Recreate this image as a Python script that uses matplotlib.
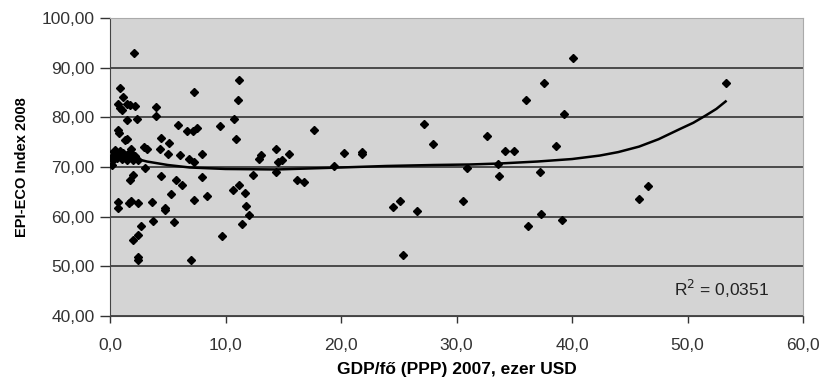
import numpy as np
import matplotlib.pyplot as plt
from matplotlib.ticker import FuncFormatter

plt.rcParams['font.family'] = ['Liberation Sans', 'DejaVu Sans']

# GDP per capita (PPP, 2007, thousand USD) vs EPI-ECO index 2008
gdp = [2.1, 0.86, 1.15, 0.7, 0.86, 1.0, 1.5, 1.7, 2.15, 4.0,
       4.0, 7.3, 1.45, 2.3, 0.7, 0.78, 1.3, 1.45, 5.85, 4.45,
       5.1, 6.7, 7.2, 7.55, 2.9, 3.2, 1.8, 4.3, 5.0, 6.1,
       6.8, 7.3, 8.0, 0.3, 0.15, 0.7, 1.0, 1.3, 1.45, 1.7,
       2.0, 2.45, 0.6, 0.45, 0.9, 3.0, 2.0, 1.7, 4.45, 5.75,
       6.2, 5.3, 7.3, 0.65, 0.65, 1.6, 1.8, 2.4, 3.65, 4.75,
       4.8, 3.75, 5.5, 2.7, 2.4, 1.95, 2.4, 2.45, 7.0, 9.55,
       10.75, 11.1, 11.2, 10.9, 8.0, 8.4, 9.7, 10.65, 11.2, 11.65,
       11.8, 12.05, 11.4, 12.4, 12.9, 13.1, 14.35, 14.55, 14.9, 14.35,
       15.5, 16.2, 16.8, 17.7, 19.4, 20.3, 21.8, 21.8, 24.5, 25.1,
       25.35, 26.6, 27.2, 28.0, 30.6, 30.9, 32.6, 33.55, 33.65, 34.2,
       34.95, 36.0, 37.55, 40.1, 39.3, 38.6, 37.2, 36.2, 37.3, 39.1,
       45.8, 46.6, 53.3, 0.4, 1.1, 2.2, 0.2, 1.6]
epi = [92.9, 85.9, 84.1, 82.7, 81.9, 81.5, 82.7, 82.4, 82.3, 82.1,
       80.2, 85.1, 79.5, 79.7, 77.5, 76.9, 75.4, 75.7, 78.5, 75.9,
       74.9, 77.3, 77.3, 77.9, 74.1, 73.6, 73.7, 73.7, 72.7, 72.4,
       71.7, 71.0, 72.7, 71.4, 70.4, 72.4, 71.7, 72.4, 71.4, 73.1,
       71.4, 71.4, 71.9, 72.8, 73.2, 69.7, 68.4, 67.4, 68.1, 67.4,
       66.4, 64.6, 63.3, 62.9, 61.8, 62.7, 63.2, 62.7, 62.9, 61.7,
       61.3, 59.1, 58.9, 58.2, 56.4, 55.4, 51.9, 51.3, 51.3, 78.3,
       79.7, 83.5, 87.5, 75.7, 67.9, 64.1, 56.2, 65.4, 66.3, 64.7,
       62.2, 60.4, 58.5, 68.4, 71.7, 72.4, 73.6, 71.1, 71.4, 68.9,
       72.6, 67.4, 66.9, 77.4, 70.3, 72.9, 73.1, 72.6, 61.9, 63.1,
       52.3, 61.2, 78.7, 74.7, 63.1, 69.7, 76.2, 70.7, 68.1, 73.3,
       73.3, 83.5, 86.9, 92.0, 80.7, 74.3, 68.9, 58.1, 60.5, 59.3,
       63.5, 66.2, 86.9, 73.5, 72.9, 72.2, 72.0, 72.0]

# trend line
trend_x = [0.0, 1.0, 2.0, 3.2, 5.0, 6.9, 10.0, 14.4, 20.0, 23.9,
           28.0, 31.1, 33.7, 37.0, 40.0, 42.4, 44.0, 45.8, 47.5, 49.3,
           50.5, 51.6, 52.5, 53.3]
trend_y = [73.1, 72.5, 71.8, 71.1, 70.4, 69.9, 69.6, 69.5, 69.9, 70.2,
           70.4, 70.5, 70.7, 71.1, 71.6, 72.3, 73.0, 74.1, 75.6, 77.6,
           78.9, 80.4, 81.7, 83.2]

fig = plt.figure(figsize=(8.23, 3.87), dpi=100)
ax = fig.add_axes([0.1337, 0.1835, 0.842, 0.77])
ax.set_facecolor('#d4d4d4')

ax.plot(gdp, epi, 'D', color='black', ms=4.5, zorder=3)
ax.plot(trend_x, trend_y, color='black', lw=1.8, zorder=4)

ax.set_xlim(0, 60)
ax.set_ylim(40, 100)
ax.set_xticks(np.arange(0, 61, 10))
ax.set_yticks(np.arange(40, 101, 10))
ax.yaxis.grid(True, color='#333333', lw=1.2)
ax.set_axisbelow(True)

ax.xaxis.set_major_formatter(FuncFormatter(lambda v, p: f'{v:.1f}'.replace('.', ',')))
ax.yaxis.set_major_formatter(FuncFormatter(lambda v, p: f'{v:.2f}'.replace('.', ',')))
ax.tick_params(labelsize=12.5, colors='#333333', width=1)
ax.tick_params(axis='x', length=5, pad=11)
ax.tick_params(axis='y', length=7, pad=4)

for s in ['left', 'bottom']:
    ax.spines[s].set_color('#444444')
for s in ['top', 'right']:
    ax.spines[s].set_color('#aaaaaa')

ax.set_xlabel('GDP/fő (PPP) 2007, ezer USD', fontsize=12.5, fontweight='bold', labelpad=6)
ax.set_ylabel('EPI-ECO Index 2008', fontsize=10.5, fontweight='bold', labelpad=9)

ax.text(48.8, 45.4, 'R$^2$ = 0,0351', fontsize=12.5, color='#222222', va='center')

fig.savefig('out.png', dpi=100)
